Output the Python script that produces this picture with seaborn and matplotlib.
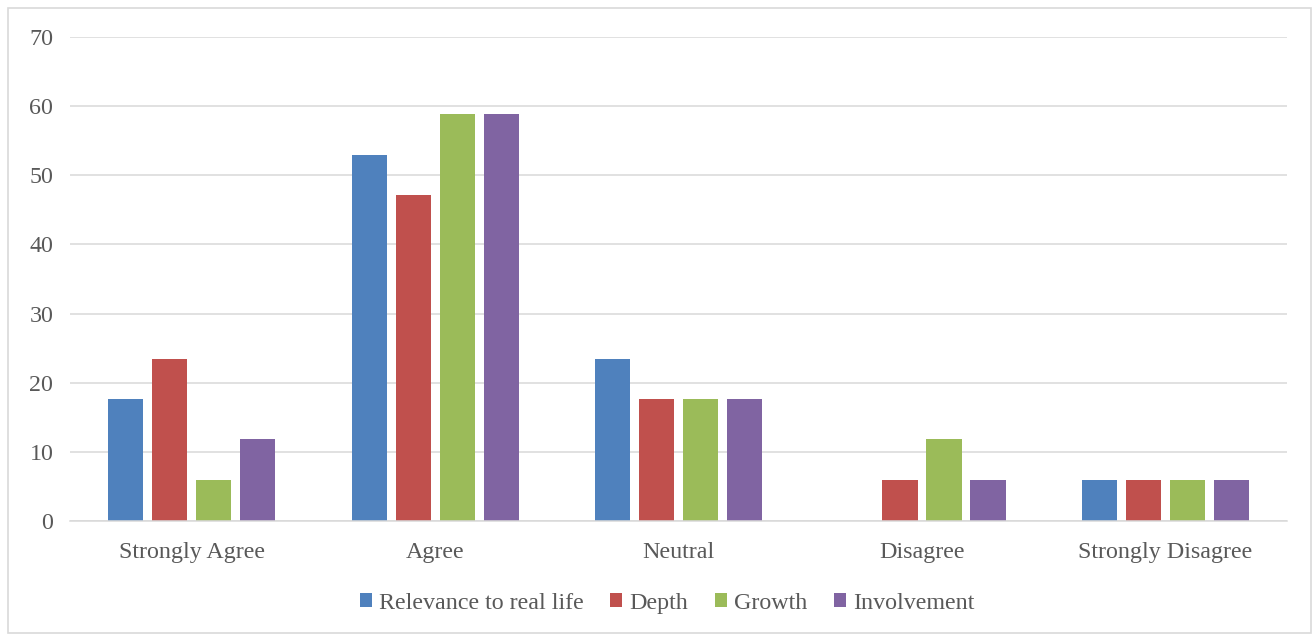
import matplotlib
matplotlib.use("Agg")
import matplotlib.pyplot as plt
from matplotlib.patches import Rectangle
import pandas as pd
import seaborn as sns

# survey responses, percent
categories = ['Strongly Agree', 'Agree', 'Neutral', 'Disagree', 'Strongly Disagree']
series = ['Relevance to real life', 'Depth', 'Growth', 'Involvement']
relevance = [17.6, 52.9, 23.5, 0.0, 5.9]
depth = [23.5, 47.1, 17.6, 5.9, 5.9]
growth = [5.9, 58.8, 17.6, 11.8, 5.9]
involvement = [11.8, 58.8, 17.6, 5.9, 5.9]
yticks = [0, 10, 20, 30, 40, 50, 60, 70]

colors = ['#4F81BD', '#C0504D', '#9BBB59', '#8064A2']
text_col = '#595959'
grid_col = '#D9D9D9'

rows = []
for name, vals in zip(series, [relevance, depth, growth, involvement]):
    for cat, v in zip(categories, vals):
        rows.append({'Response': cat, 'Series': name, 'Value': v})
df = pd.DataFrame(rows)

sns.set_style('white')
plt.rcParams['font.family'] = ['Liberation Serif', 'DejaVu Serif']

fig = plt.figure(figsize=(13.16, 6.35), dpi=100)
ax = fig.add_axes([0.0532, 0.1795, 0.9248, 0.7622])

sns.barplot(data=df, x='Response', y='Value', hue='Series', order=categories,
            hue_order=series, palette=colors, saturation=1, width=0.723, gap=0.2,
            linewidth=0, errorbar=None, ax=ax)

ax.set_xlim(-0.5, 4.5)
ax.set_ylim(0, 70)
ax.set_yticks(yticks)
ax.yaxis.grid(True, color=grid_col, linewidth=1.1)
ax.set_axisbelow(True)
for s in ['top', 'right', 'left']:
    ax.spines[s].set_visible(False)
ax.spines['bottom'].set_color(grid_col)
ax.spines['bottom'].set_linewidth(1.1)
ax.tick_params(axis='both', length=0, labelsize=17.3, colors=text_col)
ax.tick_params(axis='y', pad=12)
ax.tick_params(axis='x', pad=15)
ax.set_xlabel('')
ax.set_ylabel('')

ax.legend(loc='center', bbox_to_anchor=(0.507, 0.05), bbox_transform=fig.transFigure,
          ncol=4, frameon=False, fontsize=17.3, labelcolor=text_col,
          handlelength=0.5, handleheight=0.5, handletextpad=0.3, columnspacing=1.1)

# light chart-area border
fig.patches.append(Rectangle((0.006, 0.003), 0.99, 0.984, transform=fig.transFigure,
                             fill=False, edgecolor=grid_col, linewidth=1.2))

fig.savefig('out.png', dpi=100, facecolor='white')
